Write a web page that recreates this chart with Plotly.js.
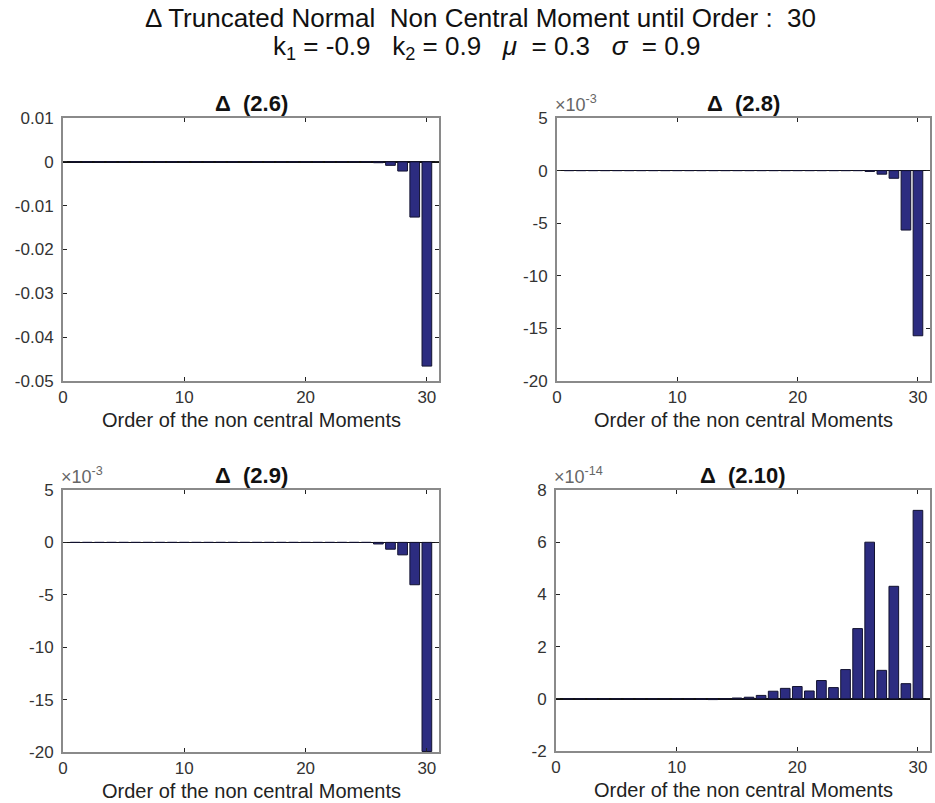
<!DOCTYPE html>
<html>
<head>
<meta charset="utf-8">
<script src="https://cdn.plot.ly/plotly-3.0.1.min.js"></script>
<style>
  html, body { margin: 0; padding: 0; background: #fff; }
  #chart { width: 935px; height: 803px; }
</style>
</head>
<body>
<div id="chart"></div>
<script>
// Moment order 1..30
const orders = Array.from({length: 30}, (_, i) => i + 1);

// Delta of each formula against the reference non central moments
const delta26 = [0,0,0,0,0,0,0,0,0,0, 0,0,0,0,0,0,0,0,0,0, 0,0,0,0,0,-0.0002,-0.0008,-0.0021,-0.0126,-0.0466];
const delta28 = [0,0,0,0,0,0,0,0,0,0, 0,0,0,0,0,0,0,0,0,0, 0,0,0,0,0,-0.00008,-0.00034,-0.00073,-0.00565,-0.0157];
const delta29 = [0,0,0,0,0,0,0,0,0,0, 0,0,0,0,0,0,0,0,0,0, 0,0,0,0,0,-0.00015,-0.00065,-0.00119,-0.00404,-0.01995];
const delta210 = [0,0,0,0,0,0,0,0,0,0, 0,-0.02e-14,-0.03e-14,0,0.03e-14,0.06e-14,0.13e-14,0.29e-14,0.40e-14,0.47e-14,
                  0.30e-14,0.70e-14,0.43e-14,1.12e-14,2.69e-14,6.0e-14,1.09e-14,4.31e-14,0.58e-14,7.22e-14];

const NB = '\u00a0';
const panelTitles = ['\u0394' + NB + NB + '(2.6)', '\u0394' + NB + NB + '(2.8)', '\u0394' + NB + NB + '(2.9)', '\u0394' + NB + NB + '(2.10)'];
const xTicks = [0, 10, 20, 30];
const yTicks26 = [0.01, 0, -0.01, -0.02, -0.03, -0.04, -0.05];
const yTicks28 = [5e-3, 0, -5e-3, -10e-3, -15e-3, -20e-3];
const yTicks29 = [5e-3, 0, -5e-3, -10e-3, -15e-3, -20e-3];
const yTicks210 = [8e-14, 6e-14, 4e-14, 2e-14, 0, -2e-14];
const exponents = [null, -3, -3, -14];
const xLabel = 'Order of the non central Moments';
const heading1 = '\u0394 Truncated Normal' + NB + NB + 'Non Central Moment until Order :' + NB + NB + '30';
const heading2 = 'k<sub>1</sub> = -0.9' + NB + NB + NB + 'k<sub>2</sub> = 0.9' + NB + NB + NB +
                 '<i>\u03bc</i>' + NB + NB + '= 0.3' + NB + NB + NB + '<i>\u03c3</i>' + NB + NB + '= 0.9';

const W = 935, H = 803;
const fx = px => px / W;
const fy = py => 1 - py / H;

// panel boxes in pixels: [left, right, top, bottom]
const boxes = [
  [63, 439, 118, 381],
  [557, 930, 118, 381],
  [63, 439, 490, 752],
  [556, 930, 490, 751]
];
const series = [delta26, delta28, delta29, delta210];
const yTickSets = [yTicks26, yTicks28, yTicks29, yTicks210];

const barColor = '#2c2c80';
const font = 'Liberation Sans, Arial, Helvetica, sans-serif';

const traces = [];
const layout = {
  width: W, height: H,
  margin: {l: 0, r: 0, t: 0, b: 0},
  paper_bgcolor: '#fff', plot_bgcolor: '#fff',
  showlegend: false,
  font: {family: font, color: '#222', size: 17},
  annotations: []
};

function fmtTick(v, exp) {
  if (exp === null) {
    return v === 0 ? '0' : String(Math.round(v * 100) / 100);
  }
  return String(Math.round(v / Math.pow(10, exp)));
}

series.forEach((vals, i) => {
  const n = i === 0 ? '' : String(i + 1);
  const [l, r, t, b] = boxes[i];
  const ticks = yTickSets[i];
  const ymax = Math.max(...ticks), ymin = Math.min(...ticks);
  traces.push({
    type: 'bar', x: orders, y: vals,
    xaxis: 'x' + n, yaxis: 'y' + n,
    width: 0.8,
    marker: {color: barColor, line: {color: '#121230', width: 1}},
    hoverinfo: 'x+y'
  });
  layout['xaxis' + n] = {
    domain: [fx(l), fx(r)], anchor: 'y' + n,
    range: [0, 31], fixedrange: true,
    tickvals: xTicks, ticktext: xTicks.map(String),
    ticks: 'inside', ticklen: 4, tickcolor: '#222', tickwidth: 1,
    showline: true, mirror: 'ticks', linecolor: '#8a8a8a', linewidth: 2,
    showgrid: false, zeroline: false,
    ticklabelstandoff: 0,
    tickfont: {family: font, size: 17, color: '#333'}
  };
  layout['yaxis' + n] = {
    domain: [fy(b), fy(t)], anchor: 'x' + n,
    range: [ymin, ymax], fixedrange: true,
    tickvals: ticks, ticktext: ticks.map(v => fmtTick(v, exponents[i])),
    ticks: 'inside', ticklen: 4, tickcolor: '#222', tickwidth: 1,
    showline: true, mirror: 'ticks', linecolor: '#8a8a8a', linewidth: 2,
    showgrid: false,
    zeroline: true, zerolinecolor: '#111', zerolinewidth: 1.5,
    ticklabelstandoff: 4,
    tickfont: {family: font, size: 17, color: '#333'}
  };
  // panel title
  layout.annotations.push({
    xref: 'paper', yref: 'paper', x: fx((l + r) / 2), y: fy(t - 15),
    xanchor: 'center', yanchor: 'middle', showarrow: false,
    text: '<b>' + panelTitles[i] + '</b>',
    font: {family: font, size: 22, color: '#111'}
  });
  // x axis label
  layout.annotations.push({
    xref: 'paper', yref: 'paper', x: fx((l + r) / 2), y: fy(b + 39),
    xanchor: 'center', yanchor: 'middle', showarrow: false,
    text: xLabel,
    font: {family: font, size: 20, color: '#222'}
  });
  // exponent label
  if (exponents[i] !== null) {
    layout.annotations.push({
      xref: 'paper', yref: 'paper', x: fx(l - 4), y: fy(t - 1),
      xanchor: 'left', yanchor: 'bottom', showarrow: false,
      text: '\u00d710<sup>' + exponents[i] + '</sup>',
      font: {family: font, size: 18, color: '#666'}
    });
  }
});

// figure heading
layout.annotations.push({
  xref: 'paper', yref: 'paper', x: fx(480), y: fy(18),
  xanchor: 'center', yanchor: 'middle', showarrow: false,
  text: heading1,
  font: {family: font, size: 26, color: '#111'}
});
layout.annotations.push({
  xref: 'paper', yref: 'paper', x: fx(486), y: fy(47),
  xanchor: 'center', yanchor: 'middle', showarrow: false,
  text: heading2,
  font: {family: font, size: 26, color: '#111'}
});

Plotly.newPlot('chart', traces, layout, {displayModeBar: false, staticPlot: true});
</script>
</body>
</html>
